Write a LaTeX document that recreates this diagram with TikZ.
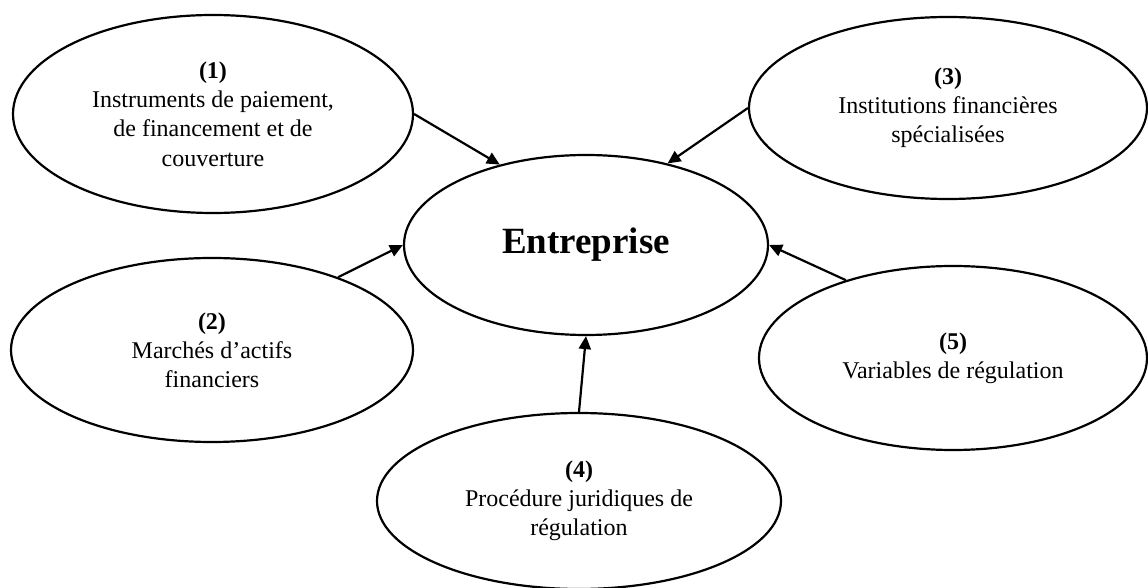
\documentclass[tikz,border=0pt]{standalone}
\usepackage{fontspec}
\setmainfont{Liberation Serif}
\usetikzlibrary{shapes.geometric}
\usetikzlibrary{arrows.meta}

\begin{document}
\begin{tikzpicture}[x=0.5pt,y=-0.5pt,>={Triangle[length=6.5pt,width=6pt]},line width=1.1pt,
                    bubble/.style={ellipse,draw,align=center,inner sep=0pt,font=\fontsize{12}{14.6}\selectfont},
                    core/.style={ellipse,draw,inner sep=0pt,font=\fontsize{18.5}{22}\selectfont\bfseries}]
\useasboundingbox (0,0) rectangle (1148,588);

\node[core, minimum width=182pt, minimum height=90pt] (ent) at (586,245) {Entreprise};
\node[bubble, minimum width=200pt, minimum height=99pt] (one) at (213,114)
  {\textbf{(1)}\\Instruments de paiement,\\de financement et de\\couverture};
\node[bubble, minimum width=201pt, minimum height=92pt] (two) at (212,350)
  {\textbf{(2)}\\Marchés d’actifs\\financiers};
\node[bubble, minimum width=199pt, minimum height=91pt] (three) at (948,108)
  {\textbf{(3)}\\Institutions financières\\spécialisées};
\node[bubble, minimum width=202pt, minimum height=88pt] (four) at (579,501)
  {\textbf{(4)}\\Procédure juridiques de\\régulation};
\node[bubble, minimum width=194pt, minimum height=92pt] (five) at (953,358)
  {\textbf{(5)}\\Variables de régulation};

\path[->]
  (one.east) edge (ent.137)
  (two.30) edge (ent.west)
  (three.west) edge (ent.45)
  (four.north) edge (ent.south)
  (five.144) edge (ent.east);

\end{tikzpicture}
\end{document}
